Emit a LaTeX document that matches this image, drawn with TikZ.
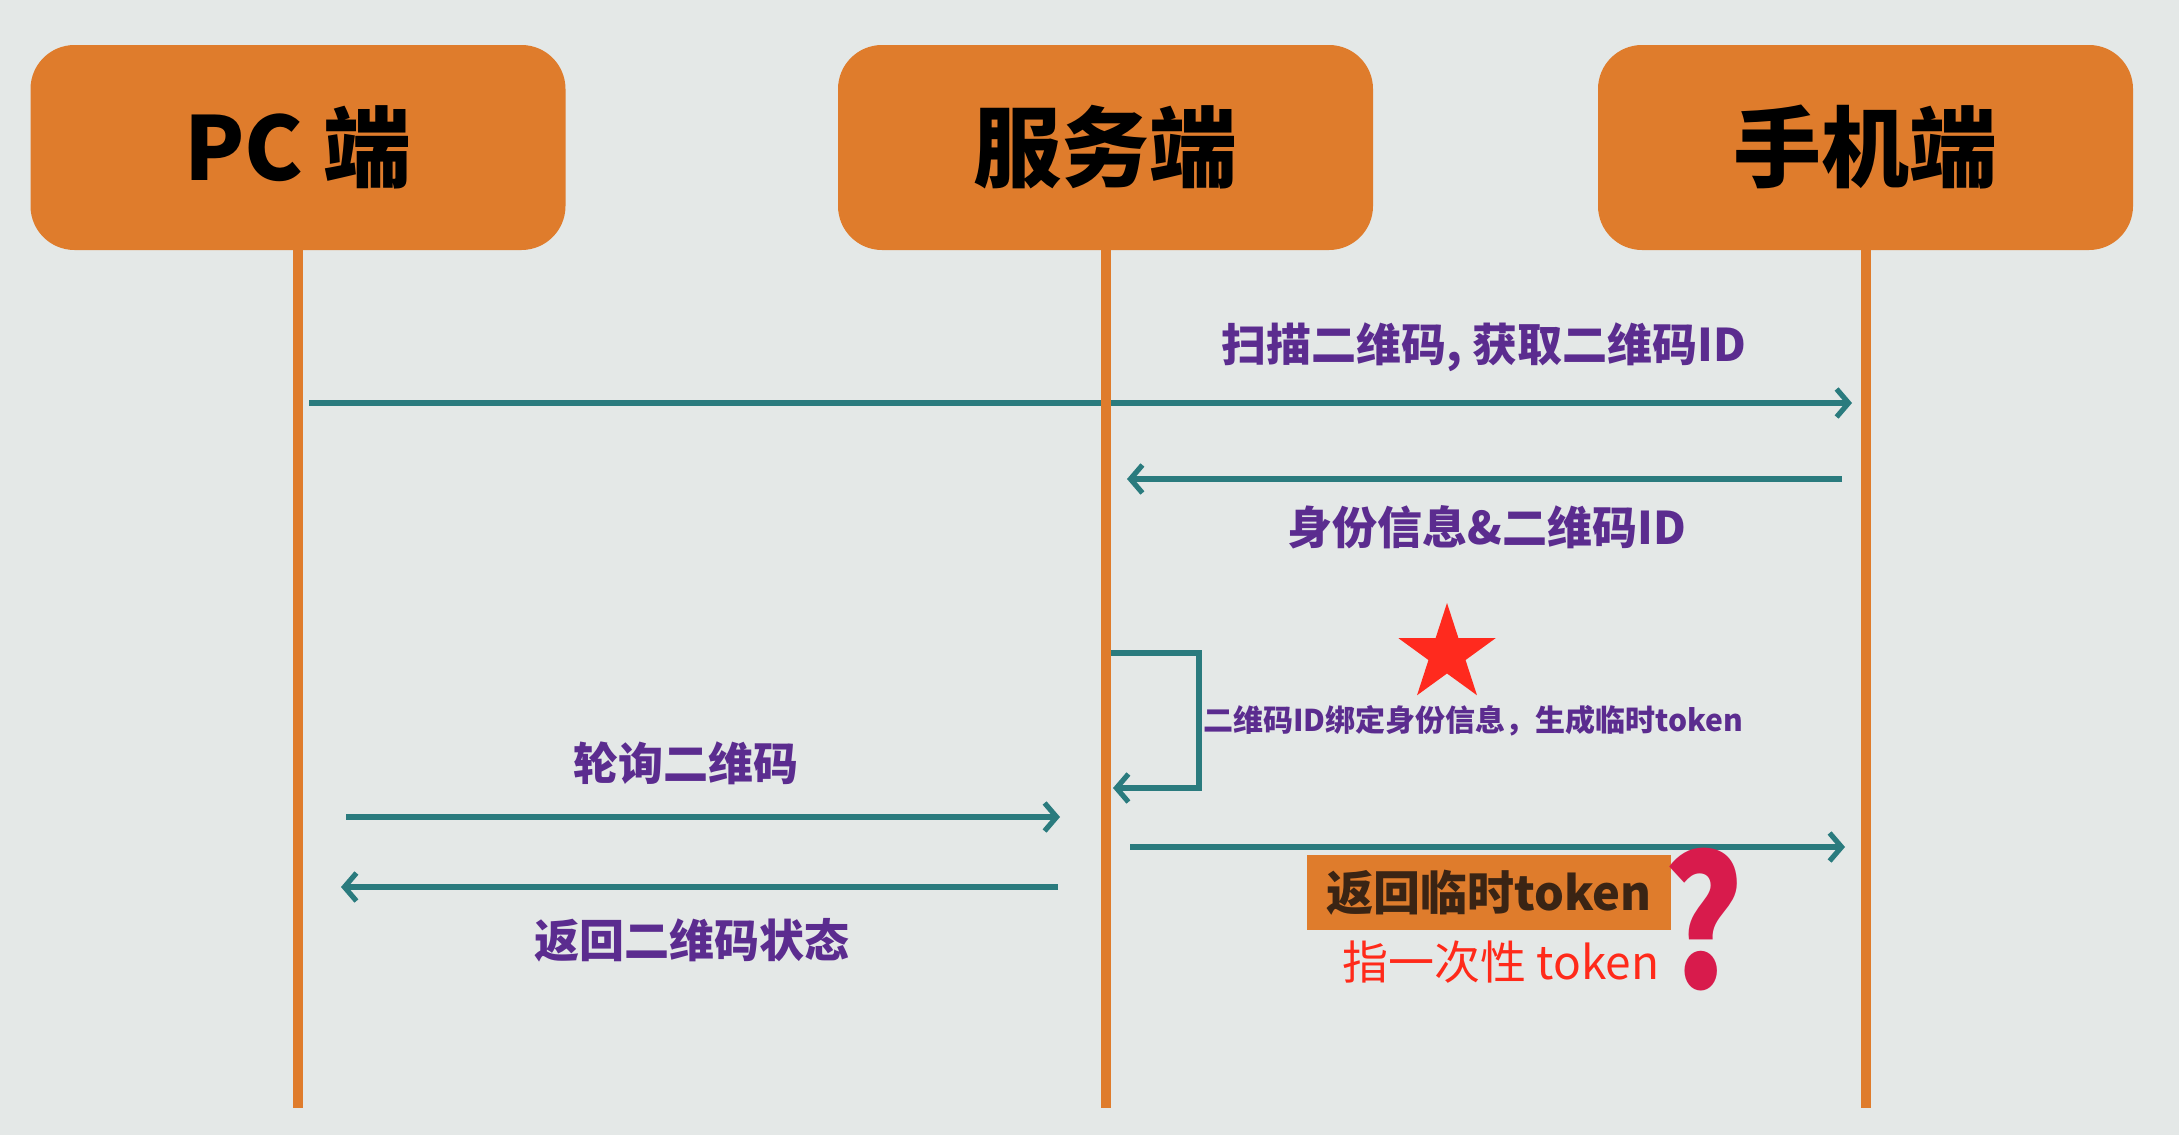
\documentclass[tikz,border=0pt]{standalone}
\usepackage{fontspec}
\usetikzlibrary{arrows.meta}
\newfontfamily\cjk{Noto Sans CJK SC}
\definecolor{bg}{HTML}{E4E8E7}
\definecolor{orng}{HTML}{DF7C2C}
\definecolor{tealc}{HTML}{2A7B7E}
\definecolor{purp}{HTML}{5B2C8F}
\definecolor{redtxt}{HTML}{FF2A1A}
\definecolor{redstar}{HTML}{FF2A1E}
\definecolor{qmark}{HTML}{D81B4C}
\definecolor{brownt}{HTML}{3A2414}
\begin{document}
\begin{tikzpicture}[x=0.5pt,y=-0.5pt,
  actor/.style={fill=orng, rounded corners=22pt, minimum width=267.5pt, minimum height=102.5pt, inner sep=0pt, font=\cjk\bfseries\fontsize{44}{44}\selectfont, text=black},
  life/.style={draw=orng, line width=5pt},
  msg/.style={draw=tealc, line width=2.8pt, -{Straight Barb[length=6pt,width=14pt,line width=2.6pt]}},
  lbl/.style={font=\cjk\bfseries\fontsize{22.5}{22.5}\selectfont, text=purp, inner sep=0pt},
  smalllbl/.style={font=\cjk\bfseries\fontsize{15}{15}\selectfont, text=purp, inner sep=0pt},
  tokbox/.style={fill=orng, minimum width=182pt, minimum height=37.5pt, inner sep=0pt, font=\cjk\bfseries\fontsize{23.5}{23.5}\selectfont, text=brownt},
  note/.style={font=\cjk\fontsize{23}{23}\selectfont, text=redtxt, inner sep=0pt},
  qm/.style={font=\cjk\bfseries\fontsize{90}{90}\selectfont, text=qmark, inner sep=0pt, xscale=0.85}
]
\fill[bg] (0,0) rectangle (2179,1135);
\useasboundingbox (0,0) rectangle (2179,1135);

% actors
\node[actor] (pc)  at (298,147.5)  {PC 端};
\node[actor] (srv) at (1105.5,147.5) {服务端};
\node[actor] (mob) at (1865.5,147.5) {手机端};

% lifelines
\coordinate (bot) at (0,1108);
\coordinate (pcBot)  at (pc.south |- bot);
\coordinate (srvBot) at (srv.south |- bot);
\coordinate (mobBot) at (mob.south |- bot);

% message anchor points
\coordinate (m1s) at (309,403);
\coordinate (m1e) at (1852,403);
\coordinate (m2s) at (1842,479);
\coordinate (m2e) at (1127,479);
\coordinate (m3s) at (1111,653);
\coordinate (m3a) at (1199,653);
\coordinate (m3b) at (1199,788);
\coordinate (m3e) at (1113,788);
\coordinate (m4s) at (346,817);
\coordinate (m4e) at (1060,817);
\coordinate (m5s) at (1058,887);
\coordinate (m5e) at (341,887);
\coordinate (m6s) at (1130,847);
\coordinate (m6e) at (1845,847);

\draw[msg] (m1s) -- (m1e);
\draw[msg] (m2s) -- (m2e);
\draw[msg] (m3s) -- (m3a) -- (m3b) -- (m3e);
\draw[msg] (m4s) -- (m4e);
\draw[msg] (m5s) -- (m5e);
\draw[msg] (m6s) -- (m6e);

\draw[life] (pc.south) -- (pcBot);
\draw[life] (srv.south) -- (srvBot);
\draw[life] (mob.south) -- (mobBot);

% labels
\node[lbl] (l1) at (1484,347) {扫描二维码, 获取二维码ID};
\node[lbl] (l2) at (1487,527) {身份信息\&二维码ID};
\node[smalllbl] (l3) at (1473,721) {二维码ID绑定身份信息，生成临时token};
\node[lbl] (l4) at (686,763) {轮询二维码};
\node[lbl] (l5) at (692,940) {返回二维码状态};
\node[tokbox] (tok) at (1489,892.5) {返回临时token};
\node[note] (nt) at (1501,962) {指一次性 token};
\node[qm] (q) at (1703,920) {?};

% star
\fill[redstar] (1447,654) +(-90:51)
  \foreach \k in {0,...,4} { -- +(-90+72*\k:51) -- +(-54+72*\k:19.5) } -- cycle;
\end{tikzpicture}
\end{document}
